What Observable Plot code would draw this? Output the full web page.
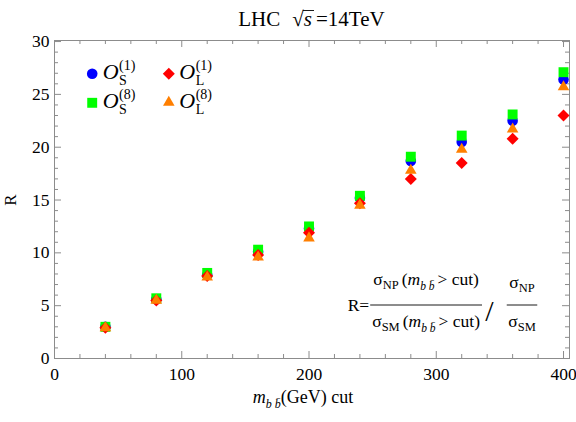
<!DOCTYPE html>
<html><head><meta charset="utf-8">
<script src="https://cdn.jsdelivr.net/npm/d3@7"></script>
<script src="https://cdn.jsdelivr.net/npm/@observablehq/plot@0.6"></script>
<style>body{margin:0;background:#fff}#chart svg{display:block}</style>
</head><body><div id="chart"></div>
<script>
// ---- data ----
const cuts = [40, 80, 120, 160, 200, 240, 280, 320, 360, 400];
const OS1 = [3.0, 5.6, 7.9, 10.1, 12.3, 15.2, 18.7, 20.5, 22.5, 26.4]; // blue circles
const OS8 = [3.0, 5.7, 8.1, 10.3, 12.5, 15.4, 19.1, 21.1, 23.1, 27.1]; // green squares
const OL1 = [2.9, 5.5, 7.8, 9.8, 11.9, 14.7, 17.0, 18.5, 20.8, 23.0]; // red diamonds
const OL8 = [2.9, 5.5, 7.7, 9.6, 11.4, 14.5, 17.8, 19.8, 21.7, 25.7]; // orange triangles
const xMajor = [0, 100, 200, 300, 400];
const xMinor = [20,40,60,80,120,140,160,180,220,240,260,280,320,340,360,380];
const yMajor = [0, 5, 10, 15, 20, 25, 30];
const yMinor = [1,2,3,4,6,7,8,9,11,12,13,14,16,17,18,19,21,22,23,24,26,27,28,29];
const seriesKeys = ["OS1", "OS8", "OL1", "OL8"];

const series = {
  OS1: {vals: OS1, symbol: "circle", fill: "#0000ff", r: 5.3, lx: 37.7, ly: 33.3, sub: "S", sup: "(1)"},
  OS8: {vals: OS8, symbol: "square", fill: "#00ff00", r: 5.6, lx: 37.7, ly: 62.3, sub: "S", sup: "(8)"},
  OL1: {vals: OL1, symbol: "diamond2", fill: "#ff0000", r: 5.4, lx: 114.3, ly: 33.3, sub: "L", sup: "(1)"},
  OL8: {vals: OL8, symbol: "triangle", fill: "#ff7f00", r: 4.3, lx: 114.3, ly: 62, sub: "L", sup: "(8)"}
};
const rows = k => cuts.map((c, i) => ({cut: c, R: series[k].vals[i]}));

const W = 576, H = 422, ML = 54, MR = 7, MT = 40, MB = 64;
const innerW = W - ML - MR, innerH = H - MT - MB;
const gray = "#8c8c8c";
const FONT = "'Liberation Serif', 'Times New Roman', serif";

const marks = [
  Plot.tickX(xMinor, {x: d => d, insetTop: innerH - 4, stroke: gray}),
  Plot.tickX(xMajor, {x: d => d, insetTop: innerH - 7, stroke: gray}),
  Plot.tickX(xMinor, {x: d => d, insetBottom: innerH - 4, stroke: gray}),
  Plot.tickX(xMajor, {x: d => d, insetBottom: innerH - 7, stroke: gray}),
  Plot.tickY(yMinor, {y: d => d, insetRight: innerW - 4, stroke: gray}),
  Plot.tickY(yMajor, {y: d => d, insetRight: innerW - 7, stroke: gray}),
  Plot.tickY(yMinor, {y: d => d, insetLeft: innerW - 4, stroke: gray}),
  Plot.tickY(yMajor, {y: d => d, insetLeft: innerW - 7, stroke: gray}),
  Plot.frame({stroke: gray}),
  Plot.axisX(xMajor, {tickSize: 0, tickPadding: 9, label: null, fontSize: 17.5}),
  Plot.axisY(yMajor, {tickSize: 0, tickPadding: 5, label: null, fontSize: 17.5})
];
for (const k of seriesKeys) {
  const s = series[k];
  marks.push(Plot.dot(rows(k), {x: "cut", y: "R", symbol: () => s.symbol, fill: s.fill, r: s.r, stroke: null}));
}
for (const k of seriesKeys) {
  const s = series[k];
  marks.push(Plot.dot([k], {frameAnchor: "top-left", dx: s.lx, dy: s.ly, symbol: () => s.symbol, fill: s.fill, r: s.r, stroke: null}));
}

const chart = Plot.plot({
  width: W, height: H, marginLeft: ML, marginRight: MR, marginTop: MT, marginBottom: MB,
  style: {fontFamily: FONT, fontSize: "17px", background: "#fff", color: "#000", overflow: "visible"},
  x: {domain: [0, 404.7]},
  y: {domain: [0, 30.1]},
  symbol: {type: "identity"},
  marks
});
document.getElementById("chart").append(chart);

const svg = d3.select(chart);
// rich text: pieces laid out left to right
function rich(x, y, pieces, anchor = "start") {
  const g = svg.append("g").attr("fill", "#000").attr("text-anchor", "start").attr("font-family", FONT);
  let cx = 0;
  const pos = [];
  for (const p of pieces) {
    const t = g.append("text").attr("x", cx).attr("y", p.dy || 0)
      .attr("font-size", p.s).attr("font-style", p.it ? "italic" : null).text(p.t);
    const w = t.node().getComputedTextLength();
    pos.push({x0: cx, x1: cx + w});
    if (!p.stay) cx += w + (p.after || 0);
  }
  const shift = anchor === "middle" ? -cx / 2 : anchor === "end" ? -cx : 0;
  g.attr("transform", `translate(${x + shift},${y})`);
  return {g, w: cx, pos, left: x + shift};
}

// Title
const title = rich(311.5, 26, [
  {t: "LHC", s: 21, after: 12},
  {t: "\u221A", s: 21},
  {t: "s", s: 21, it: true, after: 4},
  {t: "=14TeV", s: 21}
], "middle");
{
  const p = title.pos[2];
  title.g.append("line").attr("x1", title.pos[1].x1 - 1).attr("x2", p.x1 + 2)
    .attr("y1", -15.5).attr("y2", -15.5).attr("stroke", "#000").attr("stroke-width", 0.9);
}

// axis labels
rich(303, 403, [
  {t: "m", s: 18, it: true},
  {t: "b b\u0304", s: 12, it: true, dy: 5},
  {t: "(GeV) cut", s: 18}
], "middle");
svg.append("text").attr("transform", "translate(16,200) rotate(-90)").attr("text-anchor", "middle")
  .attr("font-size", 17).attr("font-family", FONT).attr("fill", "#000").text("R");

// legend labels
for (const k of seriesKeys) {
  const s = series[k];
  const x = ML + s.lx + 11, y = MT + s.ly + 6;
  rich(x, y, [
    {t: "O", s: 22, it: true, after: 0.5},
    {t: s.sub, s: 14, dy: 6, stay: true},
    {t: s.sup, s: 14, dy: -9}
  ]);
}

// formula
const F = 17.5;
const num1 = rich(0, 0, [{t: "\u03C3", s: F}, {t: "NP", s: 12.5, dy: 4, after: 3}, {t: "(", s: F}, {t: "m", s: F, it: true}, {t: "b b\u0304", s: 11.5, it: true, dy: 5, after: 3}, {t: "> cut)", s: F}]);
const den1 = rich(0, 0, [{t: "\u03C3", s: F}, {t: "SM", s: 12.5, dy: 4, after: 3}, {t: "(", s: F}, {t: "m", s: F, it: true}, {t: "b b\u0304", s: 11.5, it: true, dy: 5, after: 3}, {t: "> cut)", s: F}]);
const num2 = rich(0, 0, [{t: "\u03C3", s: F}, {t: "NP", s: 12.5, dy: 4}]);
const den2 = rich(0, 0, [{t: "\u03C3", s: F}, {t: "SM", s: 12.5, dy: 4}]);
const barY = 305;
const c2 = 522, w2 = Math.max(num2.w, den2.w) + 3;
num2.g.attr("transform", `translate(${c2 - num2.w / 2},288)`);
den2.g.attr("transform", `translate(${c2 - den2.w / 2},327)`);
svg.append("line").attr("x1", c2 - w2 / 2).attr("x2", c2 + w2 / 2).attr("y1", barY).attr("y2", barY).attr("stroke", "#000").attr("stroke-width", 0.9);
svg.append("text").attr("x", 489.5).attr("y", 321).attr("text-anchor", "middle").attr("font-size", 30)
  .attr("font-family", FONT).attr("fill", "#000").text("/");
const r1 = 482, w1 = Math.max(num1.w, den1.w) + 4, c1 = r1 - w1 / 2;
num1.g.attr("transform", `translate(${c1 - num1.w / 2},285)`);
den1.g.attr("transform", `translate(${c1 - den1.w / 2},327)`);
svg.append("line").attr("x1", r1 - w1).attr("x2", r1).attr("y1", barY).attr("y2", barY).attr("stroke", "#000").attr("stroke-width", 0.9);
svg.append("text").attr("x", r1 - w1 - 1).attr("y", 311).attr("text-anchor", "end").attr("font-size", F)
  .attr("font-family", FONT).attr("fill", "#000").text("R=");
</script>
</body></html>
